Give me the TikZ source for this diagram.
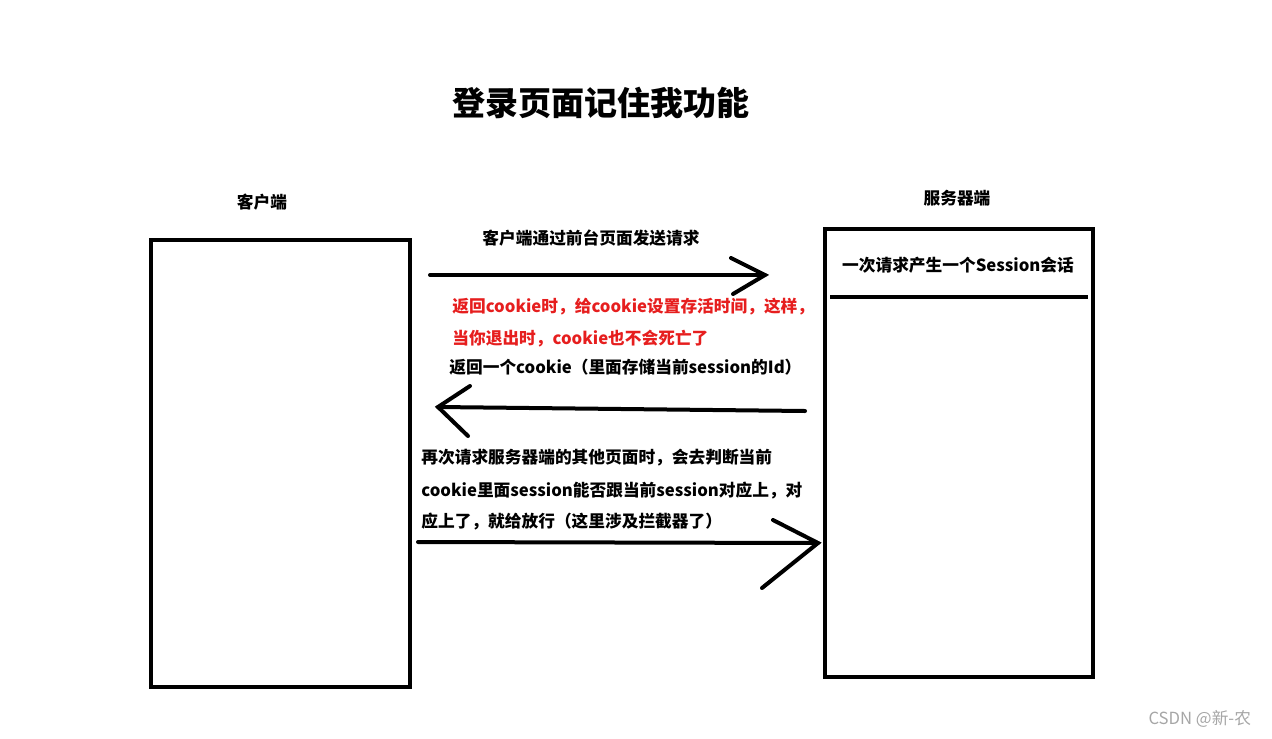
\documentclass[tikz,border=0pt]{standalone}
\usepackage{fontspec}
\setmainfont{Noto Sans CJK SC}
\newfontfamily\cjk{Noto Sans CJK SC}
\begin{document}
\begin{tikzpicture}[x=0.5pt,y=-0.5pt,
  box/.style={line width=2pt},
  arr/.style={line width=2pt,line cap=round},
  lbl/.style={font=\cjk\bfseries\fontsize{8.35}{10}\selectfont,inner sep=0pt},
  red/.style={lbl,text={rgb,255:red,230;green,30;blue,30}}]
\useasboundingbox (0,0) rectangle (1272,738);
\node[font=\cjk\bfseries\fontsize{16.5}{19}\selectfont] (title) at (601,103) {登录页面记住我功能};
\node[lbl] (cl) at (262,202) {客户端};
\node[lbl] (sv) at (957,198) {服务器端};
\draw[box] (151,240) rectangle (410,687);
\draw[box] (825,229) rectangle (1093,677);
\coordinate (s1) at (830,297); \coordinate (s2) at (1088,297);
\draw[box] (s1) -- (s2);
\node[lbl] (sess) at (958,265) {一次请求产生一个Session会话};
\node[lbl] (t1) at (591,238) {客户端通过前台页面发送请求};
\coordinate (a1s) at (430,275); \coordinate (a1e) at (765,275);
\coordinate (a1u) at (731,258); \coordinate (a1d) at (733,294);
\draw[arr] (a1s) -- (a1e);
\draw[arr] (a1u) -- (a1e) -- (a1d);
\node[red,anchor=west] (r1) at (452,307) {返回cookie时，给cookie设置存活时间，这样，};
\node[red,anchor=west] (r2) at (452,339) {当你退出时，cookie也不会死亡了};
\node[lbl,anchor=west] (t2) at (449,367) {返回一个cookie（里面存储当前session的Id）};
\coordinate (a2s) at (805,411); \coordinate (a2e) at (438,407);
\coordinate (a2u) at (470,386); \coordinate (a2d) at (468,436);
\draw[arr] (a2s) -- (a2e);
\draw[arr] (a2u) -- (a2e) -- (a2d);
\node[lbl,anchor=west] (t3) at (421,458) {再次请求服务器端的其他页面时，会去判断当前};
\node[lbl,anchor=west] (t4) at (421,491) {cookie里面session能否跟当前session对应上，对};
\node[lbl,anchor=west] (t5) at (421,522) {应上了，就给放行（这里涉及拦截器了）};
\coordinate (a3s) at (418,542); \coordinate (a3e) at (818,543);
\coordinate (a3u) at (773,520); \coordinate (a3d) at (762,588);
\draw[arr] (a3s) -- (a3e);
\draw[arr] (a3u) -- (a3e) -- (a3d);
\node[font=\cjk\fontsize{8.35}{10}\selectfont,text=black!35,anchor=east] (wm) at (1258,719) {CSDN @新-农};
\end{tikzpicture}
\end{document}
